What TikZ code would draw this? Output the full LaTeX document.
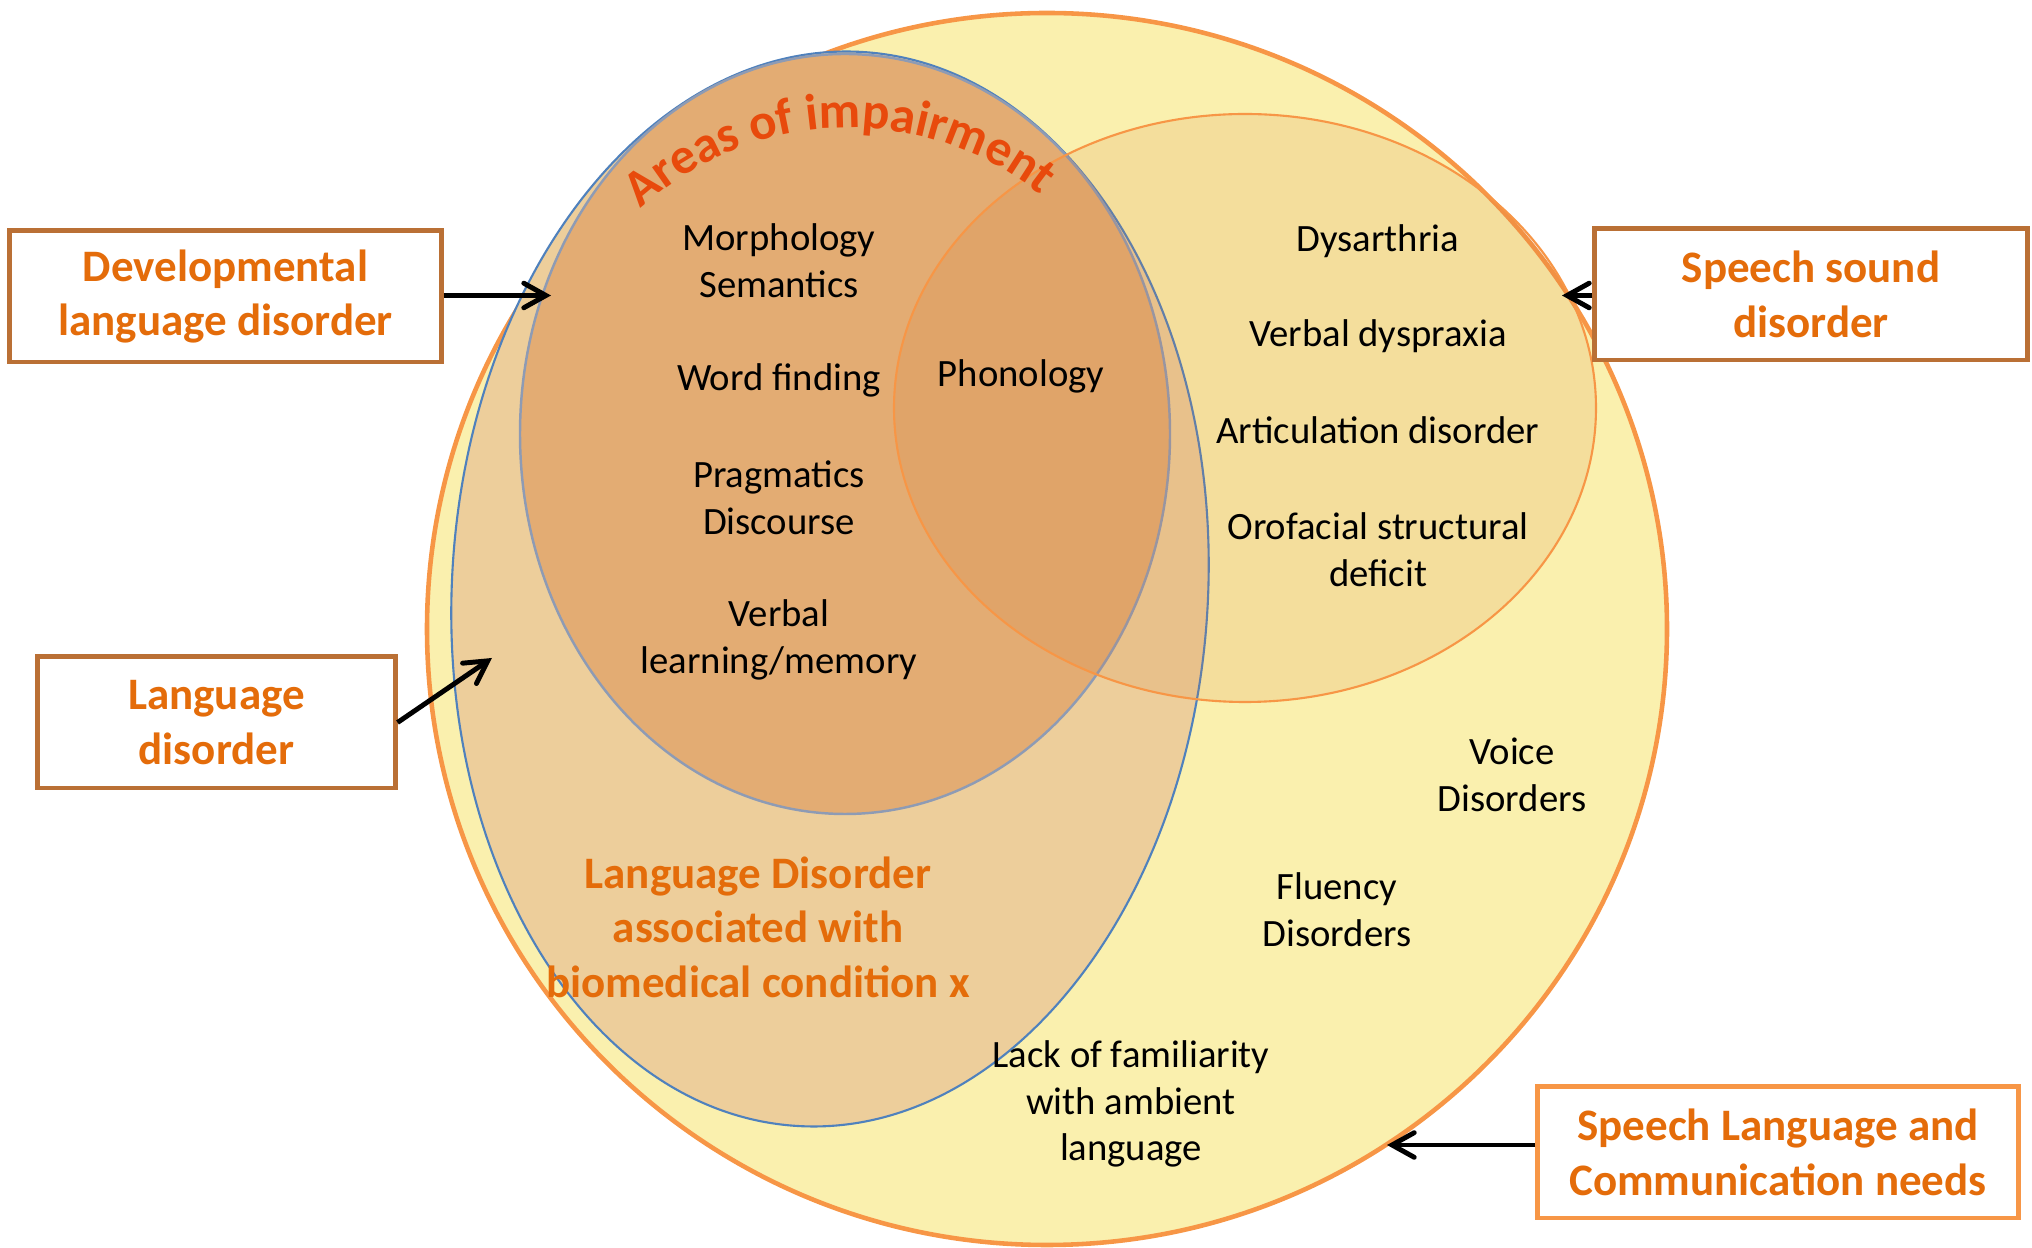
\documentclass[tikz,border=0pt]{standalone}
\usepackage{fontspec}
\setmainfont{Carlito}
\usetikzlibrary{arrows.meta,decorations.text}

\definecolor{needsyellow}{HTML}{FAF0AE}
\definecolor{needsorange}{HTML}{F79646}
\definecolor{langtan}{HTML}{EDCE9B}
\definecolor{langblue}{HTML}{4F81BD}
\definecolor{areafill}{HTML}{E3AC73}
\definecolor{arealine}{HTML}{8E9BB4}
\definecolor{soundfill}{RGB}{210,120,54}
\definecolor{boxbrown}{HTML}{BA7035}
\definecolor{labelorange}{HTML}{E46C0A}
\definecolor{areared}{HTML}{E84A0C}

\tikzset{
  labelbox/.style={draw=boxbrown,line width=1.4pt,fill=white,minimum height=1.31cm,
    inner sep=0pt,align=center,text=labelorange,font=\fontsize{12.8}{15.5}\selectfont\bfseries},
  item/.style={align=center,inner sep=0pt,font=\fontsize{11}{13.3}\selectfont},
  pointer/.style={line width=1.4pt,-{Straight Barb[length=6.3pt,width=7pt,line cap=round]}}
}

\begin{document}
\begin{tikzpicture}[x=0.01cm,y=0.01cm]
  \useasboundingbox (0,0) rectangle (2032,1248);

  % nested regions
  \draw[needsorange,line width=1.3pt,fill=needsyellow] (1047,619) ellipse [x radius=620,y radius=616];
  \draw[langblue,line width=0.6pt,fill=langtan] (830,659) ellipse [x radius=378,y radius=538,rotate=-3.5];
  \draw[arealine,line width=0.7pt,fill=areafill] (845,814) ellipse [x radius=325,y radius=380];
  \draw[needsorange,line width=0.6pt,fill=soundfill,fill opacity=0.15] (1245,840) ellipse [x radius=351,y radius=294];

  \path[decorate,decoration={text along path,text align=center,text color=areared,
      text={|\fontsize{14.5}{14.5}\selectfont\bfseries|Areas of impairment}}]
    (849,812) ++(172:308) arc [start angle=172,end angle=12,radius=308];

  % areas of impairment
  \node[item] (morph) at (779,987) {Morphology\\Semantics};
  \node[item] (word) at (779,868) {Word finding};
  \node[item] (phon) at (1021,872) {Phonology};
  \node[item] (prag) at (779,750) {Pragmatics\\Discourse};
  \node[item] (verb) at (779,608) {Verbal\\learning/memory};

  % speech sound
  \node[item] (dys) at (1378,1007) {Dysarthria};
  \node[item] (prax) at (1378,912) {Verbal dyspraxia};
  \node[item] (artic) at (1378,818) {Articulation disorder};
  \node[item] (oro) at (1378,698) {Orofacial structural\\deficit};

  % other needs
  \node[item] (voice) at (1512,473) {Voice\\Disorders};
  \node[item] (flu) at (1337,338) {Fluency\\Disorders};
  \node[item] (ambient) at (1131,144) {Lack of familiarity\\with ambient\\language};
  \node[align=center,inner sep=0pt,text=labelorange,font=\fontsize{12.8}{15.5}\selectfont\bfseries]
    (bio) at (758,321) {Language Disorder\\associated with\\biomedical condition x};

  % labels round the diagram
  \node[labelbox,minimum width=4.31cm] (dld) at (225.5,951.5) {Developmental\\language disorder};
  \node[labelbox,minimum width=4.32cm] (ssd) at (1811,953.5) {Speech sound\\disorder};
  \node[labelbox,minimum width=3.57cm] (ld) at (216.5,525.5) {Language\\disorder};
  \node[labelbox,draw=needsorange,minimum width=4.80cm] (slcn) at (1778,95.5) {Speech Language and\\Communication needs};

  \coordinate (dldtip) at (551,952.5);
  \coordinate (ssdtip) at (1562,952.5);
  \coordinate (ldtip) at (492,590);
  \coordinate (slcntip) at (1387,103);
  \draw[pointer] (dld.east |- dldtip) -- (dldtip);
  \draw[pointer] (ssd.west |- ssdtip) -- (ssdtip);
  \draw[pointer] (ld.east) -- (ldtip);
  \draw[pointer] (slcn.west |- slcntip) -- (slcntip);
\end{tikzpicture}
\end{document}
